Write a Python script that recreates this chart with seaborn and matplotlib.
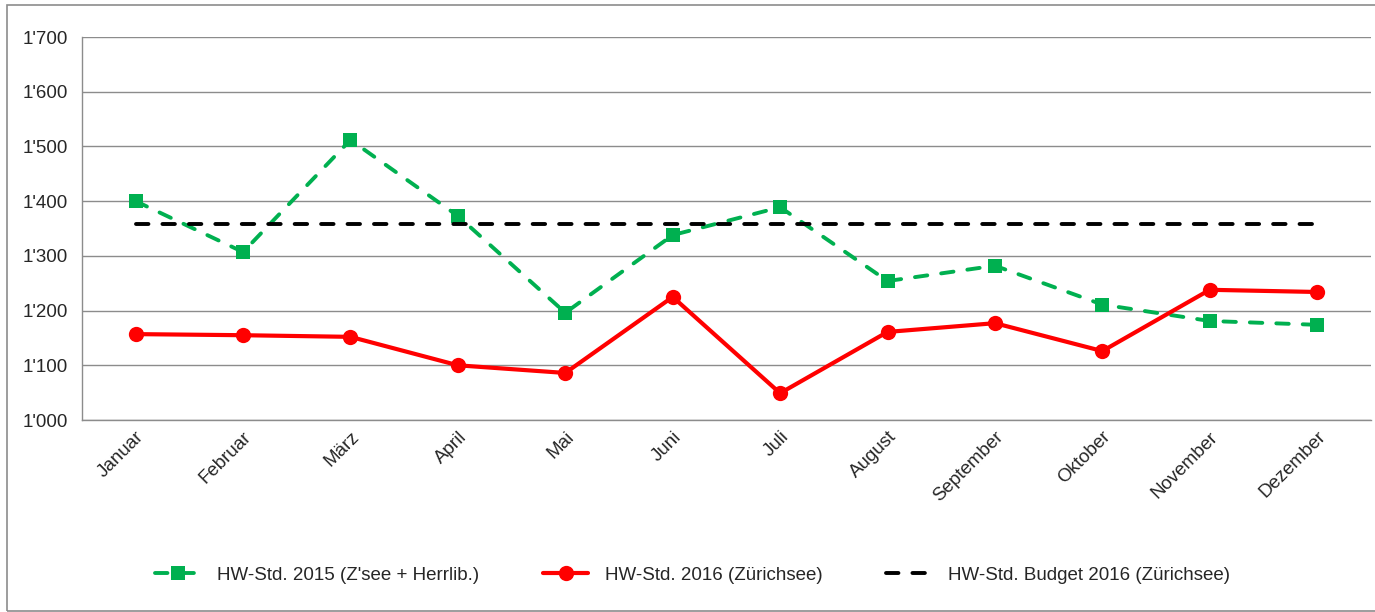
import numpy as np
import pandas as pd
import matplotlib
matplotlib.use("Agg")
import matplotlib.pyplot as plt
import matplotlib.ticker as mticker
from matplotlib.patches import Rectangle
import seaborn as sns

months = ["Januar", "Februar", "März", "April", "Mai", "Juni", "Juli",
          "August", "September", "Oktober", "November", "Dezember"]
hw_2015 = [1400, 1307, 1512, 1373, 1196, 1338, 1389, 1254, 1282, 1211, 1181, 1174]
hw_2016 = [1157, 1155, 1152, 1100, 1086, 1225, 1049, 1161, 1177, 1126, 1238, 1234]
budget_2016 = [1358] * 12

labels = ["HW-Std. 2015 (Z'see + Herrlib.)", "HW-Std. 2016 (Zürichsee)",
          "HW-Std. Budget 2016 (Zürichsee)"]

sns.set_style("white")
plt.rcParams["font.family"] = ["Liberation Sans", "DejaVu Sans"]

x = np.arange(len(months))
df = pd.DataFrame({"x": x, "hw_2015": hw_2015, "hw_2016": hw_2016, "budget": budget_2016})

fig = plt.figure(figsize=(13.75, 6.12), dpi=100)
ax = fig.add_axes([0.0596, 0.3137, 0.9374, 0.6258])

# outer chart border
fig.patches.append(Rectangle((0.005, 0.002), 0.998, 0.99, transform=fig.transFigure,
                             fill=False, edgecolor="#8c8c8c", linewidth=1.2))

sns.lineplot(data=df, x="x", y="hw_2015", ax=ax, color="#00b050", linewidth=2.8,
             linestyle=(0, (3.2, 3.6)), dash_capstyle="round", marker="s",
             markersize=10.5, markeredgewidth=0, label=labels[0])
sns.lineplot(data=df, x="x", y="hw_2016", ax=ax, color="#ff0000", linewidth=3,
             marker="o", markersize=11, markeredgewidth=0, label=labels[1])
sns.lineplot(data=df, x="x", y="budget", ax=ax, color="black", linewidth=2.8,
             linestyle=(0, (3.2, 3.6)), dash_capstyle="round", label=labels[2])

ax.set_xlim(-0.5, len(months) - 0.5)
ax.set_ylim(1000, 1700)
ax.yaxis.set_major_locator(mticker.MultipleLocator(100))
ax.yaxis.set_major_formatter(mticker.FuncFormatter(
    lambda v, p: f"{int(v):,}".replace(",", "'")))
ax.set_xticks(x)
ax.set_xticklabels(months, rotation=45, ha="right", rotation_mode="anchor")
ax.set_xticks(np.arange(-0.5, len(months)), minor=True)
ax.tick_params(axis="x", which="major", length=0, pad=6, labelsize=13.5)
ax.tick_params(axis="x", which="minor", length=5, color="#8c8c8c", width=1)
ax.tick_params(axis="y", length=5, color="#8c8c8c", width=1, labelsize=13.5, pad=5)
ax.set_xlabel("")
ax.set_ylabel("")

ax.grid(axis="y", color="#8c8c8c", linewidth=1)
ax.set_axisbelow(True)
for side in ["top", "right"]:
    ax.spines[side].set_visible(False)
for side in ["left", "bottom"]:
    ax.spines[side].set_color("#8c8c8c")
    ax.spines[side].set_linewidth(1)

ax.legend(loc="center", bbox_to_anchor=(0.474, -0.405), ncol=3, frameon=False,
          fontsize=13.5, handlelength=2.4, columnspacing=3.4, handletextpad=0.9)

fig.savefig("out.png", dpi=100)
